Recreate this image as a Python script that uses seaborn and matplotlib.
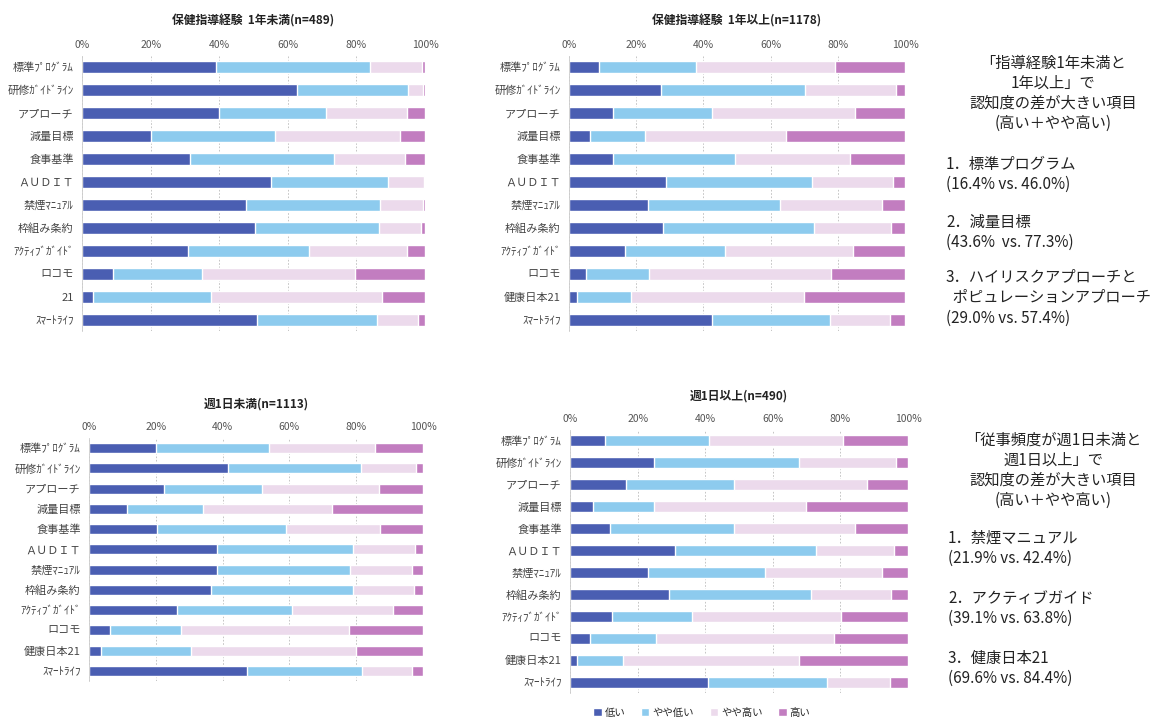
import numpy as np
import pandas as pd
import matplotlib.pyplot as plt
import seaborn as sns

# 項目名 (各パネル)
items = ['標準ﾌﾟﾛｸﾞﾗﾑ', '研修ｶﾞｲﾄﾞﾗｲﾝ', 'アプローチ', '減量目標', '食事基準', 'ＡＵＤＩＴ',
         '禁煙ﾏﾆｭｱﾙ', '枠組み条約', 'ｱｸﾃｨﾌﾞｶﾞｲﾄﾞ', 'ロコモ', '健康日本21', 'ｽﾏｰﾄﾗｲﾌ']
items_p1 = items[:10] + ['21'] + items[11:]

levels = ['低い', 'やや低い', 'やや高い', '高い']
colors = ['#4a5eb2', '#8dcbee', '#ecdaec', '#c27dc0']

# 保健指導経験 1年未満(n=489)
p1_low = [39.0, 62.6, 40.0, 20.0, 31.4, 55.0, 47.7, 50.4, 30.9, 9.0, 3.2, 50.9]
p1_mlow = [45.0, 32.4, 31.0, 36.4, 42.0, 34.2, 39.1, 36.1, 35.4, 26.1, 34.4, 35.1]
p1_mhigh = [15.2, 4.5, 23.6, 36.2, 20.7, 10.5, 12.7, 12.4, 28.3, 44.4, 49.9, 12.0]
p1_high = [0.8, 0.5, 5.4, 7.4, 5.9, 0.3, 0.5, 1.1, 5.4, 20.5, 12.5, 2.0]

# 保健指導経験 1年以上(n=1178)
p2_low = [9.0, 27.3, 13.2, 6.3, 13.2, 28.9, 23.4, 27.9, 16.7, 5.0, 2.3, 42.7]
p2_mlow = [28.8, 43.0, 29.4, 16.4, 36.3, 43.4, 39.3, 44.9, 29.8, 18.9, 16.1, 34.9]
p2_mhigh = [41.4, 27.0, 42.6, 41.9, 34.0, 24.0, 30.3, 23.1, 37.9, 54.1, 51.4, 18.0]
p2_high = [20.8, 2.7, 14.8, 35.4, 16.5, 3.7, 7.0, 4.1, 15.6, 22.0, 30.2, 4.4]

# 週1日未満(n=1113)
p3_low = [20.2, 41.7, 22.5, 11.3, 20.5, 38.4, 38.4, 36.4, 26.2, 6.3, 3.5, 47.4]
p3_mlow = [33.7, 39.6, 29.4, 22.9, 38.4, 40.5, 39.7, 42.7, 34.7, 21.2, 27.0, 34.4]
p3_mhigh = [31.8, 16.7, 34.9, 38.6, 28.1, 18.6, 18.7, 18.2, 30.1, 50.2, 49.3, 15.0]
p3_high = [14.3, 2.0, 13.2, 27.2, 13.0, 2.5, 3.2, 2.7, 9.0, 22.3, 20.2, 3.2]

# 週1日以上(n=490)
p4_low = [10.4, 24.7, 16.5, 6.9, 11.8, 31.1, 23.2, 29.4, 12.5, 5.9, 2.2, 40.7]
p4_mlow = [30.8, 42.9, 32.1, 17.8, 36.8, 41.7, 34.4, 41.9, 23.7, 19.4, 13.4, 35.4]
p4_mhigh = [39.5, 28.8, 39.4, 45.1, 35.7, 23.1, 34.6, 23.7, 43.9, 52.9, 52.2, 18.6]
p4_high = [19.3, 3.6, 12.0, 30.2, 15.7, 4.1, 7.8, 5.0, 19.9, 21.8, 32.2, 5.3]

titles = ['保健指導経験  1年未満(n=489)', '保健指導経験  1年以上(n=1178)',
          '週1日未満(n=1113)', '週1日以上(n=490)']

panels = [
    (items_p1, [p1_low, p1_mlow, p1_mhigh, p1_high]),
    (items, [p2_low, p2_mlow, p2_mhigh, p2_high]),
    (items, [p3_low, p3_mlow, p3_mhigh, p3_high]),
    (items, [p4_low, p4_mlow, p4_mhigh, p4_high]),
]

note1 = ['「指導経験1年未満と', '1年以上」で', '認知度の差が大きい項目', '(高い＋やや高い)']
note1_items = ['1．標準プログラム', '(16.4% vs. 46.0%)', '2．減量目標', '(43.6%  vs. 77.3%)',
               '3．ハイリスクアプローチと', '  ポピュレーションアプローチ', '(29.0% vs. 57.4%)']
note2 = ['「従事頻度が週1日未満と', '週1日以上」で', '認知度の差が大きい項目', '(高い＋やや高い)']
note2_items = ['1．禁煙マニュアル', '(21.9% vs. 42.4%)', '2．アクティブガイド', '(39.1% vs. 63.8%)',
               '3．健康日本21', '(69.6% vs. 84.4%)']

sns.set_style('white')
plt.rcParams['font.family'] = ['Noto Sans CJK JP', 'DejaVu Sans']

fig = plt.figure(figsize=(11.6, 7.2), dpi=100)
axes_pos = [
    [0.0707, 0.5396, 0.2957, 0.3833],
    [0.4905, 0.5396, 0.2897, 0.3833],
    [0.0767, 0.0542, 0.2880, 0.3375],
    [0.4914, 0.0375, 0.2914, 0.3653],
]

for pos, title, (labels, vals) in zip(axes_pos, titles, panels):
    ax = fig.add_axes(pos)
    cum = np.cumsum(np.array(vals), axis=0)
    df = pd.DataFrame({'項目': labels})
    # 累積値を大きい方から重ね描きして積み上げ棒にする
    for i in range(3, -1, -1):
        df['v'] = cum[i]
        sns.barplot(data=df, x='v', y='項目', color=colors[i], width=0.5,
                    saturation=1, ax=ax, label=levels[i])
    ax.set_xlim(0, 100)
    ax.set_xticks(np.arange(0, 101, 20))
    ax.set_xticklabels([f'{t}%' for t in range(0, 101, 20)])
    ax.xaxis.tick_top()
    ax.tick_params(axis='x', labelsize=7.5, length=0, pad=4, colors='#555555')
    ax.tick_params(axis='y', labelsize=8, length=0, pad=6, colors='#444444')
    ax.set_xlabel('')
    ax.set_ylabel('')
    ax.grid(axis='x', color='#bbbbbb', linestyle=(0, (2, 2)), linewidth=0.6)
    ax.set_axisbelow(True)
    for s in ['top', 'right', 'bottom']:
        ax.spines[s].set_visible(False)
    ax.spines['left'].set_color('#cccccc')
    ax.spines['left'].set_linewidth(0.6)
    ax.legend().remove()
    ax.set_title(title, fontsize=8.5, fontweight='bold', pad=22, color='#222222')

handles, lbls = ax.get_legend_handles_labels()
order = [lbls.index(l) for l in levels]
fig.legend([handles[i] for i in order], levels, loc='center', bbox_to_anchor=(0.605, 0.01),
           ncol=4, frameon=False, fontsize=7.5, handlelength=0.8, handleheight=0.8,
           columnspacing=1.5, handletextpad=0.3)

for k, line in enumerate(note1):
    fig.text(1053 / 1160, 1 - (63 + k * 20) / 720, line, ha='center', va='center',
             fontsize=11, color='#222222')
ys1 = [165, 184, 222, 242, 277, 297, 318]
for y, line in zip(ys1, note1_items):
    fig.text(946 / 1160, 1 - y / 720, line, ha='left', va='center', fontsize=11, color='#222222')

for k, line in enumerate(note2):
    fig.text(1053 / 1160, 1 - (440 + k * 20) / 720, line, ha='center', va='center',
             fontsize=11, color='#222222')
ys2 = [538, 558, 598, 618, 658, 678]
for y, line in zip(ys2, note2_items):
    fig.text(948 / 1160, 1 - y / 720, line, ha='left', va='center', fontsize=11, color='#222222')

plt.savefig('out.png', dpi=100)
plt.close()
